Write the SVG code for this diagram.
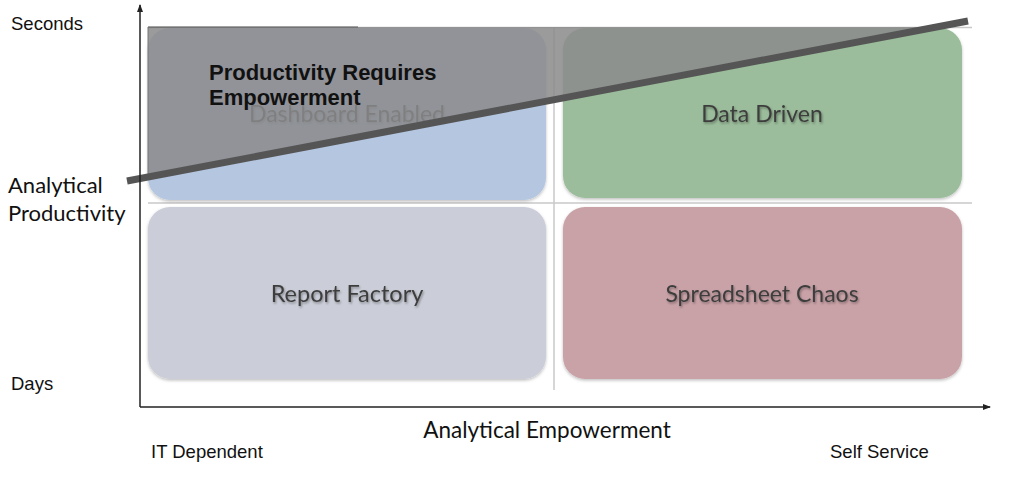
<svg xmlns="http://www.w3.org/2000/svg" width="1024" height="483" viewBox="0 0 1024 483">
<defs>
<style>
.ax{font-family:"Liberation Sans",Arial,sans-serif;font-size:18.5px;fill:#111}
.gs{font-family:Lato,"Open Sans",sans-serif;fill:#111}
.lbl{font-family:Lato,"Open Sans",sans-serif;font-size:23px;fill:#3e3e3e;text-anchor:middle}
.grid{stroke:#c8c8c8;stroke-width:1.5;fill:none}
.axis{stroke:#222;stroke-width:1.5;fill:none}
</style>
<marker id="arr" markerWidth="8" markerHeight="6" refX="7" refY="3" orient="auto" markerUnits="userSpaceOnUse">
<path d="M0,0 L8,3 L0,6 Z" fill="#222"/>
</marker>
<filter id="sh" x="-5%" y="-5%" width="110%" height="115%">
<feDropShadow dx="0" dy="1.5" stdDeviation="1.5" flood-color="#000" flood-opacity="0.25"/>
</filter>
<filter id="tsh" x="-10%" y="-30%" width="120%" height="160%">
<feDropShadow dx="1" dy="1.5" stdDeviation="1" flood-color="#000" flood-opacity="0.35"/>
</filter>
</defs>
<rect width="1024" height="483" fill="#fff"/>
<g id="grid">
<line class="grid" x1="148" y1="27.5" x2="972" y2="27.5" stroke="#e0e0e0"/>
<line class="grid" x1="148" y1="203" x2="972" y2="203"/>
<line class="grid" x1="554" y1="27" x2="554" y2="390"/>
</g>
<g id="dashboard-enabled">
<rect x="148" y="28" width="398" height="172" rx="22" fill="#b4c6e0" filter="url(#sh)"/>
<text class="lbl" x="347" y="122" filter="url(#tsh)">Dashboard Enabled</text>
</g>
<g id="data-driven">
<rect x="563" y="28" width="399" height="170" rx="22" fill="#9bbd9b" filter="url(#sh)"/>
<text class="lbl" x="762" y="122" filter="url(#tsh)">Data Driven</text>
</g>
<g id="report-factory">
<rect x="148" y="207" width="398" height="172" rx="22" fill="#cbced8" filter="url(#sh)"/>
<text class="lbl" x="347" y="302" filter="url(#tsh)" style="font-size:23.5px">Report Factory</text>
</g>
<g id="spreadsheet-chaos">
<rect x="563" y="207" width="399" height="172" rx="22" fill="#c9a2a7" filter="url(#sh)"/>
<text class="lbl" x="762" y="302" filter="url(#tsh)">Spreadsheet Chaos</text>
</g>
<g id="overlay">
<polygon points="148,27 936,27 148,177" fill="#8a8a8c" fill-opacity="0.86"/>
<line x1="148" y1="27" x2="358" y2="27" stroke="#555" stroke-width="1.2"/>
<line x1="148" y1="27" x2="148" y2="177" stroke="#777" stroke-width="1"/>
<text class="ax" x="209" y="80" style="font-weight:bold;font-size:22px">Productivity Requires</text>
<text class="ax" x="209" y="105" style="font-weight:bold;font-size:22px">Empowerment</text>
</g>
<g id="connectors">
<line x1="127" y1="181" x2="968" y2="21" stroke="#555" stroke-width="7"/>
<line class="axis" x1="140" y1="407" x2="140" y2="5" marker-end="url(#arr)"/>
<line class="axis" x1="140" y1="407" x2="990" y2="407" marker-end="url(#arr)"/>
</g>
<g id="labels">
<text class="ax" x="11" y="30">Seconds</text>
<text class="ax" x="11" y="390">Days</text>
<text class="gs" x="8" y="193" style="font-size:22px">Analytical</text>
<text class="gs" x="8" y="221" style="font-size:22px">Productivity</text>
<text class="gs" x="547" y="438" style="font-size:22.5px;text-anchor:middle">Analytical Empowerment</text>
<text class="ax" x="151" y="458">IT Dependent</text>
<text class="ax" x="830" y="458">Self Service</text>
</g>
</svg>
